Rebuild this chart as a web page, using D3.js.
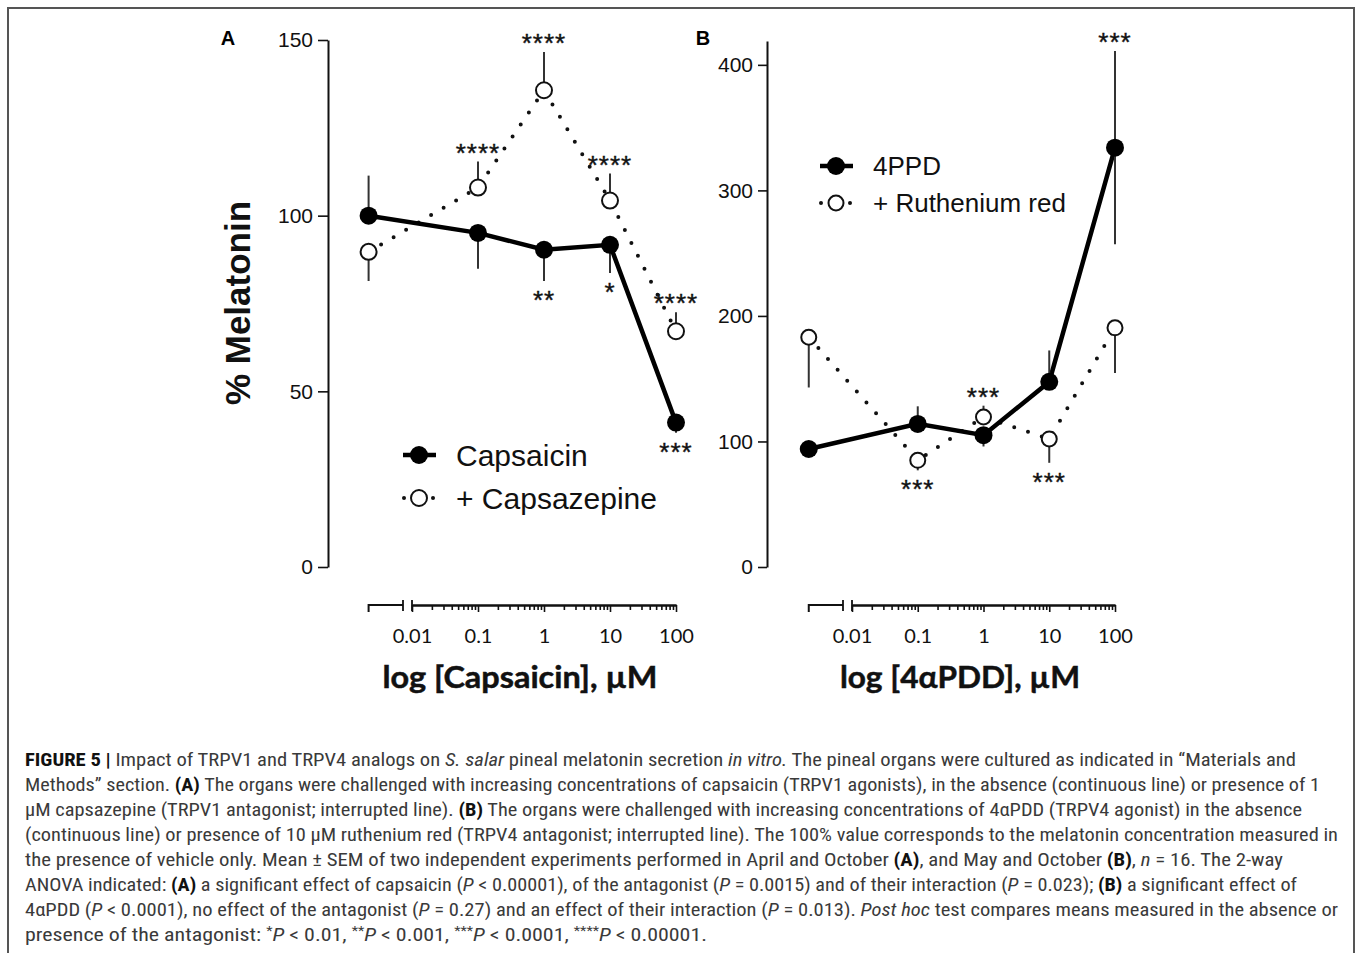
<!DOCTYPE html>
<html>
<head>
<meta charset="utf-8">
<script src="https://cdn.jsdelivr.net/npm/d3@7"></script>
<style>
  body { margin: 0; background: #fff; }
  svg { display: block; }
  .axis .domain { stroke: #111; stroke-width: 2; }
  .axis .tick line { stroke: #111; stroke-width: 1.6; }
</style>
</head>
<body>
<svg id="fig" width="1357" height="953"></svg>
<script>
// doses in µM; the first one is the vehicle, plotted left of the axis break
const doseLabels = ["vehicle", "0.1", "1", "10", "100"];
const doses = [0.0022, 0.1, 1, 10, 100];
const xTickValues = [0.01, 0.1, 1, 10, 100];
const xTickLabels = ["0.01", "0.1", "1", "10", "100"];

// panel A : capsaicin +/- capsazepine
const capsaicinMean = [100, 95.1, 90.3, 91.7, 41.1];
const capsaicinSem = [11.4, 10.2, 8.9, 8.0, 2.9];
const capsaicinErrSide = ["up", "down", "down", "down", "down"];
const capsaicinStars = ["", "", "**", "*", "***"];

const capsazepineMean = [89.7, 108, 135.7, 104.3, 67.1];
const capsazepineSem = [8.3, 7.4, 10.9, 7.7, 5.4];
const capsazepineErrSide = ["down", "up", "up", "up", "up"];
const capsazepineStars = ["", "****", "****", "****", "****"];

const yTicksA = [0, 50, 100, 150];

// panel B : 4aPDD +/- ruthenium red
const ppdMean = [94, 114, 105, 147.5, 334];
const ppdSem = [0, 14, 9, 25, 77];
const ppdErrSide = ["none", "up", "down", "up", "both"];
const ppdStars = ["", "", "", "", "***"];

const rutheniumMean = [183, 85, 119.5, 102, 190.5];
const rutheniumSem = [40, 8, 9, 19, 36];
const rutheniumErrSide = ["down", "down", "up", "down", "down"];
const rutheniumStars = ["", "***", "***", "***", ""];

const yTicksB = [0, 100, 200, 300, 400];

const svg = d3.select("#fig");
const AX_Y = 605;          // x axis baseline
const Y_BOTTOM = 567;      // y of value 0
const sansFont = "'Liberation Sans', Arial, sans-serif";
const tickFont = "Lato, 'Noto Sans', sans-serif";

// frame
svg.append("path")
  .attr("d", "M8,953V8H1354V953")
  .attr("fill", "none")
  .attr("stroke", "#555")
  .attr("stroke-width", 2);

function drawPanel(p) {
  const g = svg.append("g");

  const x = d3.scaleLog().domain([0.01, 100]).range([p.x0, p.x1]);
  const y = d3.scaleLinear().domain(p.yDomain).range([Y_BOTTOM, p.yTop]);

  // y axis
  g.append("g")
    .attr("class", "axis")
    .attr("transform", `translate(${p.yAxisX},0)`)
    .call(d3.axisLeft(y).tickValues(p.yTicks).tickSize(p.yTickSize).tickSizeOuter(0).tickPadding(5))
    .call(s => s.selectAll("text").attr("font-family", sansFont).attr("font-size", 21).attr("fill", "#111"));

  // x axis, minor ticks
  const minor = [];
  for (let e = -2; e < 2; e++) for (let m = 2; m <= 9; m++) minor.push(m * Math.pow(10, e));
  g.append("g")
    .attr("class", "axis")
    .attr("transform", `translate(0,${AX_Y})`)
    .call(d3.axisBottom(x).tickValues(minor).tickSize(5).tickSizeOuter(0).tickFormat(""));
  g.append("g")
    .attr("class", "axis")
    .attr("transform", `translate(0,${AX_Y})`)
    .call(d3.axisBottom(x).tickValues(xTickValues).tickSize(7).tickSizeOuter(0).tickPadding(17)
      .tickFormat((d, i) => xTickLabels[i]))
    .call(s => s.selectAll("text").attr("font-family", tickFont).attr("font-size", 20).attr("fill", "#111"));

  // vehicle segment and axis break
  const xv = x(doses[0]);
  const xb = x(0.01) - 9;
  const brk = g.append("g").attr("stroke", "#111").attr("fill", "none");
  brk.append("path").attr("stroke-width", 2)
    .attr("d", `M${xv},${AX_Y + 7}V${AX_Y}H${xb}`);
  brk.append("path").attr("stroke-width", 1.8)
    .attr("d", `M${xb},${AX_Y - 5}V${AX_Y + 6}M${x(0.01)},${AX_Y - 5}V${AX_Y + 6}`);

  const line = d3.line().x((d, i) => x(doses[i])).y(d => y(d));

  // dotted (antagonist) series
  g.append("path")
    .datum(p.open.mean)
    .attr("d", line)
    .attr("fill", "none")
    .attr("stroke", "#111")
    .attr("stroke-width", 4)
    .attr("stroke-linecap", "round")
    .attr("stroke-dasharray", "0,14.5");

  // solid (agonist) series
  g.append("path")
    .datum(p.filled.mean)
    .attr("d", line)
    .attr("fill", "none")
    .attr("stroke", "#000")
    .attr("stroke-width", 4.5);

  // error bars + stars
  [p.filled, p.open].forEach(s => {
    s.mean.forEach((m, i) => {
      const side = s.side[i];
      const cx = x(doses[i]);
      let top = m, bot = m;
      if (side === "up" || side === "both") top = m + s.sem[i];
      if (side === "down" || side === "both") bot = m - s.sem[i];
      if (side !== "none") {
        g.append("line")
          .attr("x1", cx).attr("x2", cx)
          .attr("y1", y(top)).attr("y2", y(bot))
          .attr("stroke", "#333")
          .attr("stroke-width", 2);
      }
      if (s.stars[i]) {
        const above = side !== "down";
        const cy = above ? y(top) - 15 : y(bot) + 13;
        g.append("text")
          .attr("x", cx)
          .attr("y", cy + 15)
          .attr("text-anchor", "middle")
          .attr("font-family", sansFont)
          .attr("font-size", 26)
          .attr("letter-spacing", 1)
          .attr("fill", "#111")
          .attr("stroke", "#111")
          .attr("stroke-width", 0.4)
          .text(s.stars[i]);
      }
    });
  });

  // markers
  g.selectAll(".open")
    .data(p.open.mean)
    .join("circle")
    .attr("cx", (d, i) => x(doses[i]))
    .attr("cy", d => y(d))
    .attr("r", p.openR)
    .attr("fill", "#fff")
    .attr("stroke", "#111")
    .attr("stroke-width", 2);

  g.selectAll(".filled")
    .data(p.filled.mean)
    .join("circle")
    .attr("cx", (d, i) => x(doses[i]))
    .attr("cy", d => y(d))
    .attr("r", 9)
    .attr("fill", "#000");

  // legend
  const lg = g.append("g").attr("transform", `translate(${p.legend.x},${p.legend.y})`);
  lg.append("line").attr("x1", 0).attr("x2", 33).attr("y1", 0).attr("y2", 0)
    .attr("stroke", "#000").attr("stroke-width", 4.5);
  lg.append("circle").attr("cx", 16).attr("cy", 0).attr("r", 9).attr("fill", "#000");
  const oy = p.legend.gap;
  [1, 30].forEach(dx => lg.append("circle").attr("cx", dx).attr("cy", oy).attr("r", 2).attr("fill", "#111"));
  lg.append("circle").attr("cx", 16).attr("cy", oy).attr("r", p.openR)
    .attr("fill", "#fff").attr("stroke", "#111").attr("stroke-width", 2);
  p.legend.labels.forEach((t, i) => {
    lg.append("text")
      .attr("x", p.legend.textX)
      .attr("y", i * oy + p.legend.fontSize * 0.36)
      .attr("font-family", sansFont)
      .attr("font-size", p.legend.fontSize)
      .attr("fill", "#111")
      .text(t);
  });

  // x title
  g.append("text")
    .attr("x", p.xTitle.cx)
    .attr("y", 688)
    .attr("text-anchor", "middle")
    .attr("font-family", tickFont)
    .attr("font-weight", "bold")
    .attr("font-size", 31)
    .attr("textLength", p.xTitle.len)
    .attr("lengthAdjust", "spacingAndGlyphs")
    .attr("fill", "#111")
    .attr("stroke", "#111")
    .attr("stroke-width", 0.5)
    .text(p.xTitle.text);

  // panel letter
  g.append("text")
    .attr("x", p.letterX)
    .attr("y", 45)
    .attr("text-anchor", "middle")
    .attr("font-family", sansFont)
    .attr("font-weight", "bold")
    .attr("font-size", 20)
    .text(p.letter);
}

drawPanel({
  letter: "A", letterX: 228,
  x0: 412, x1: 676,
  yDomain: [0, 150], yTop: 40, yTicks: yTicksA, yAxisX: 328, yTickSize: 10,
  filled: { mean: capsaicinMean, sem: capsaicinSem, side: capsaicinErrSide, stars: capsaicinStars },
  open: { mean: capsazepineMean, sem: capsazepineSem, side: capsazepineErrSide, stars: capsazepineStars },
  openR: 8,
  legend: { x: 403, y: 455, gap: 43, textX: 53, fontSize: 30, labels: ["Capsaicin", "+ Capsazepine"] },
  xTitle: { cx: 520, len: 275, text: "log [Capsaicin], µM" }
});

drawPanel({
  letter: "B", letterX: 703,
  x0: 852, x1: 1115,
  yDomain: [0, 419], yTop: 41, yTicks: yTicksB, yAxisX: 767, yTickSize: 9,
  filled: { mean: ppdMean, sem: ppdSem, side: ppdErrSide, stars: ppdStars },
  open: { mean: rutheniumMean, sem: rutheniumSem, side: rutheniumErrSide, stars: rutheniumStars },
  openR: 7.5,
  legend: { x: 820, y: 166, gap: 37, textX: 53, fontSize: 26, labels: ["4PPD", "+ Ruthenium red"] },
  xTitle: { cx: 960, len: 240, text: "log [4αPDD], µM" }
});

// y title
svg.append("text")
  .attr("transform", "translate(250,303) rotate(-90)")
  .attr("text-anchor", "middle")
  .attr("font-family", sansFont)
  .attr("font-weight", "bold")
  .attr("font-size", 35)
  .attr("fill", "#111")
  .text("% Melatonin");

// caption: [text, style] runs per line; b = bold, i = italic, s = superscript
const captionLines = [
  [["FIGURE 5 |", "b"], [" Impact of TRPV1 and TRPV4 analogs on "], ["S. salar", "i"], [" pineal melatonin secretion "], ["in vitro.", "i"], [" The pineal organs were cultured as indicated in “Materials and"]],
  [["Methods” section. "], ["(A)", "b"], [" The organs were challenged with increasing concentrations of capsaicin (TRPV1 agonists), in the absence (continuous line) or presence of 1"]],
  [["µM capsazepine (TRPV1 antagonist; interrupted line). "], ["(B)", "b"], [" The organs were challenged with increasing concentrations of 4αPDD (TRPV4 agonist) in the absence"]],
  [["(continuous line) or presence of 10 µM ruthenium red (TRPV4 antagonist; interrupted line). The 100% value corresponds to the melatonin concentration measured in"]],
  [["the presence of vehicle only. Mean ± SEM of two independent experiments performed in April and October "], ["(A)", "b"], [", and May and October "], ["(B)", "b"], [", "], ["n", "i"], [" = 16. The 2-way"]],
  [["ANOVA indicated: "], ["(A)", "b"], [" a significant effect of capsaicin ("], ["P", "i"], [" < 0.00001), of the antagonist ("], ["P", "i"], [" = 0.0015) and of their interaction ("], ["P", "i"], [" = 0.023); "], ["(B)", "b"], [" a significant effect of"]],
  [["4αPDD ("], ["P", "i"], [" < 0.0001), no effect of the antagonist ("], ["P", "i"], [" = 0.27) and an effect of their interaction ("], ["P", "i"], [" = 0.013). "], ["Post hoc", "i"], [" test compares means measured in the absence or"]],
  [["presence of the antagonist: "], ["*", "s"], ["P", "i"], [" < 0.01, "], ["**", "s"], ["P", "i"], [" < 0.001, "], ["***", "s"], ["P", "i"], [" < 0.0001, "], ["****", "s"], ["P", "i"], [" < 0.00001."]]
];
const captionEnds = [1296, 1320, 1302, 1338, 1283, 1297, 1338, 707];

const cap = svg.append("g")
  .attr("font-family", "'Liberation Sans Narrow', 'Roboto Condensed', 'Liberation Sans', sans-serif")
  .attr("font-size", 18)
  .attr("fill", "#3a3a3a");

captionLines.forEach((runs, li) => {
  const t = cap.append("text")
    .attr("x", 25)
    .attr("y", 766 + li * 25)
    .attr("textLength", captionEnds[li] - 25)
    .attr("lengthAdjust", "spacingAndGlyphs");
  let shifted = false;
  runs.forEach(([txt, st]) => {
    const ts = t.append("tspan").text(txt);
    if (st === "b") ts.attr("font-weight", "bold").attr("fill", "#111");
    if (st === "i") ts.attr("font-style", "italic");
    if (st === "s") { ts.attr("font-size", 12).attr("dy", -6); shifted = true; }
    else if (shifted) { ts.attr("dy", 6); shifted = false; }
  });
});
</script>
</body>
</html>
